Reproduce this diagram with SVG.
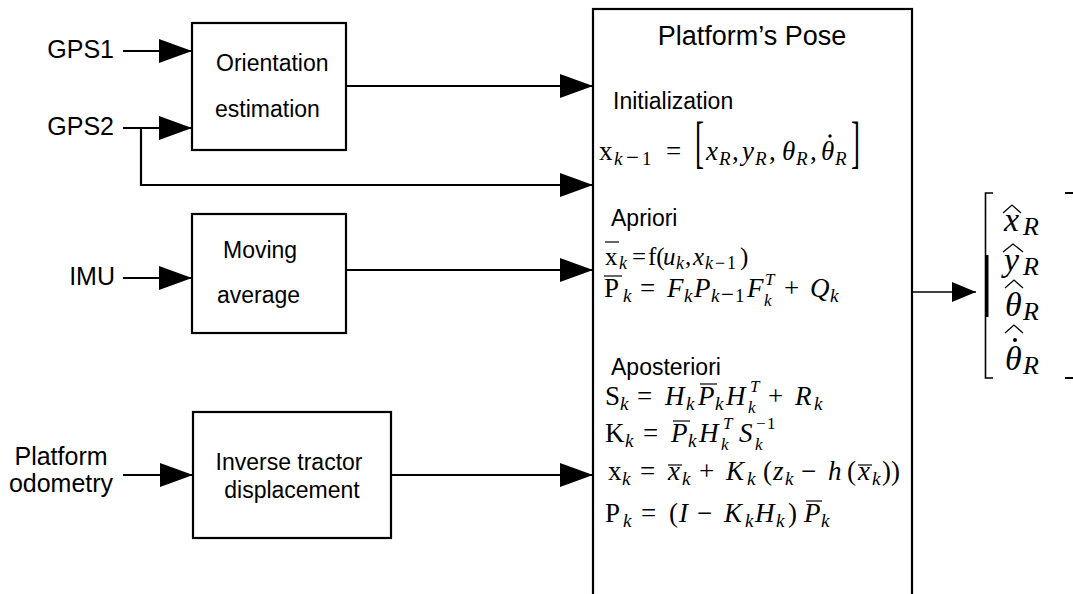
<svg xmlns="http://www.w3.org/2000/svg" width="1073" height="594" viewBox="0 0 1073 594">
<defs>
<style>
.box{fill:#fff;stroke:#000;stroke-width:2.2}
.ln{fill:none;stroke:#000;stroke-width:2.2}
.lbl{font-family:"Liberation Sans",Arial,sans-serif;font-size:25px;fill:#000}
.bt{font-family:"Liberation Sans",Arial,sans-serif;font-size:23px;fill:#000}
.ttl{font-family:"Liberation Sans",Arial,sans-serif;font-size:27px;fill:#000}
.m{font-family:"Liberation Serif","DejaVu Serif",serif;font-size:27px;fill:#000}
.m2{font-family:"Liberation Serif","DejaVu Serif",serif;font-size:25px;fill:#000}
.v{font-family:"Liberation Serif","DejaVu Serif",serif;font-size:34px;fill:#000;font-style:italic}
.it{font-style:italic}
.s{font-size:19px}
.ss{font-size:17px}
.mn{font-size:23px}
.s2{font-size:18px}
.vs{font-size:26px}
.bar{stroke:#000;stroke-width:1.2}
.hat{fill:none;stroke:#000;stroke-width:1.3}
</style>
<marker id="ah" viewBox="0 0 33 24" refX="33" refY="12" markerWidth="33" markerHeight="24" markerUnits="userSpaceOnUse" orient="auto"><path d="M0,0 L33,12 L0,24 z" fill="#000"/></marker>
<marker id="ahs" viewBox="0 0 24 20" refX="24" refY="10" markerWidth="24" markerHeight="20" markerUnits="userSpaceOnUse" orient="auto"><path d="M0,0 L24,10 L0,20 z" fill="#000"/></marker>
</defs>
<rect x="0" y="0" width="1073" height="594" fill="#fff"/>

<g id="gps1"><text class="lbl" x="114" y="58" text-anchor="end">GPS1</text></g>
<g id="gps2"><text class="lbl" x="114" y="135" text-anchor="end">GPS2</text></g>
<g id="imu"><text class="lbl" x="115" y="285" text-anchor="end">IMU</text></g>
<g id="odometry"><text class="lbl" text-anchor="middle"><tspan x="61" y="465">Platform</tspan><tspan x="61" y="492">odometry</tspan></text></g>

<g id="orientation-estimation">
<rect class="box" x="192" y="23" width="154" height="127"/>
<text class="bt"><tspan x="216" y="71">Orientation</tspan><tspan x="215" y="117">estimation</tspan></text>
</g>
<g id="moving-average">
<rect class="box" x="192" y="214" width="154" height="119"/>
<text class="bt"><tspan x="223" y="258">Moving</tspan><tspan x="217" y="303">average</tspan></text>
</g>
<g id="inverse-tractor-displacement">
<rect class="box" x="193" y="412" width="198" height="126"/>
<text class="bt" text-anchor="middle"><tspan x="289" y="470">Inverse tractor</tspan><tspan x="292" y="498">displacement</tspan></text>
</g>

<g id="platform-pose">
<rect class="box" x="593" y="9" width="319" height="600"/>
<text class="ttl" x="752" y="45" text-anchor="middle">Platform’s Pose</text>
<text class="bt" x="613" y="109">Initialization</text>
<text class="m"><tspan x="599" y="160">x</tspan><tspan class="it s" x="614" y="165">k</tspan><tspan class="mn" x="626" y="165">−</tspan><tspan class="s" x="642" y="165">1</tspan><tspan x="666" y="160">=</tspan><tspan class="it" x="706" y="160">x</tspan><tspan class="it s" x="719" y="165">R</tspan><tspan x="732" y="160">,</tspan><tspan class="it" x="742" y="160">y</tspan><tspan class="it s" x="755" y="165">R</tspan><tspan x="769" y="160">,</tspan><tspan class="it" x="782" y="160">θ</tspan><tspan class="it s" x="796" y="165">R</tspan><tspan x="810" y="160">,</tspan><tspan class="it" x="821" y="160">θ</tspan><tspan class="it s" x="835" y="165">R</tspan></text>
<circle cx="830" cy="136" r="1.7" fill="#000"/>
<text class="m" transform="translate(695,161) scale(1,2.15)">[</text>
<text class="m" transform="translate(851,161) scale(1,2.15)">]</text>

<text class="bt" x="611" y="226">Apriori</text>
<text class="m2"><tspan x="605" y="265">x</tspan><tspan class="it s2" x="619" y="269">k</tspan><tspan x="632" y="265">=</tspan><tspan x="648" y="265">f(</tspan><tspan class="it" x="663" y="265">u</tspan><tspan class="it s2" x="676" y="269">k</tspan><tspan x="685" y="265">,</tspan><tspan class="it" x="693" y="265">x</tspan><tspan class="it s2" x="705" y="269">k</tspan><tspan class="s2" x="715" y="269">−</tspan><tspan class="s2" x="727" y="269">1</tspan><tspan x="740" y="265">)</tspan></text>
<line class="bar" x1="605" y1="242" x2="619" y2="242"/>
<text class="m"><tspan x="604" y="297">P</tspan><tspan class="it s" x="623" y="302">k</tspan><tspan x="640" y="297">=</tspan><tspan class="it" x="667" y="297">F</tspan><tspan class="it s" x="684" y="302">k</tspan><tspan class="it" x="694" y="297">P</tspan><tspan class="it s" x="711" y="302">k</tspan><tspan class="mn" x="721" y="302">−</tspan><tspan class="s" x="735" y="302">1</tspan><tspan class="it" x="747" y="297">F</tspan><tspan class="it ss" x="765" y="285">T</tspan><tspan class="it ss" x="764" y="306">k</tspan><tspan x="784" y="297">+</tspan><tspan class="it" x="810" y="297">Q</tspan><tspan class="it s" x="830" y="302">k</tspan></text>
<line class="bar" x1="604" y1="276" x2="622" y2="276"/>

<text class="bt" x="611" y="375">Aposteriori</text>
<text class="m"><tspan x="605" y="405">S</tspan><tspan class="it s" x="620" y="410">k</tspan><tspan x="637" y="405">=</tspan><tspan class="it" x="665" y="405">H</tspan><tspan class="it s" x="686" y="410">k</tspan><tspan class="it" x="698" y="405">P</tspan><tspan class="it s" x="715" y="410">k</tspan><tspan class="it" x="726" y="405">H</tspan><tspan class="it ss" x="750" y="392">T</tspan><tspan class="it ss" x="748" y="413">k</tspan><tspan x="768" y="405">+</tspan><tspan class="it" x="795" y="405">R</tspan><tspan class="it s" x="814" y="410">k</tspan></text>
<line class="bar" x1="700" y1="384" x2="717" y2="384"/>
<text class="m"><tspan x="605" y="442">K</tspan><tspan class="it s" x="625" y="447">k</tspan><tspan x="643" y="442">=</tspan><tspan class="it" x="671" y="442">P</tspan><tspan class="it s" x="688" y="447">k</tspan><tspan class="it" x="699" y="442">H</tspan><tspan class="it ss" x="723" y="429">T</tspan><tspan class="it ss" x="721" y="450">k</tspan><tspan class="it" x="739" y="442">S</tspan><tspan class="ss" x="756" y="429">−</tspan><tspan class="ss" x="767" y="429">1</tspan><tspan class="it ss" x="755" y="450">k</tspan></text>
<line class="bar" x1="673" y1="421" x2="690" y2="421"/>
<text class="m"><tspan x="608" y="480">x</tspan><tspan class="it s" x="622" y="485">k</tspan><tspan x="640" y="480">=</tspan><tspan class="it" x="668" y="480">x</tspan><tspan class="it s" x="682" y="485">k</tspan><tspan x="699" y="480">+</tspan><tspan class="it" x="726" y="480">K</tspan><tspan class="it s" x="747" y="485">k</tspan><tspan x="763" y="480">(</tspan><tspan class="it" x="773" y="480">z</tspan><tspan class="it s" x="785" y="485">k</tspan><tspan x="801" y="480">−</tspan><tspan class="it" x="828" y="480">h</tspan><tspan x="847" y="480">(</tspan><tspan class="it" x="858" y="480">x</tspan><tspan class="it s" x="872" y="485">k</tspan><tspan x="882" y="480">))</tspan></text>
<line class="bar" x1="668" y1="465" x2="682" y2="465"/>
<line class="bar" x1="858" y1="465" x2="872" y2="465"/>
<text class="m"><tspan x="605" y="522">P</tspan><tspan class="it s" x="623" y="527">k</tspan><tspan x="641" y="522">=</tspan><tspan x="669" y="522">(</tspan><tspan class="it" x="679" y="522">I</tspan><tspan x="697" y="522">−</tspan><tspan class="it" x="724" y="522">K</tspan><tspan class="it s" x="745" y="527">k</tspan><tspan class="it" x="755" y="522">H</tspan><tspan class="it s" x="776" y="527">k</tspan><tspan x="788" y="522">)</tspan><tspan class="it" x="804" y="522">P</tspan><tspan class="it s" x="821" y="527">k</tspan></text>
<line class="bar" x1="806" y1="501" x2="822" y2="501"/>
</g>

<g id="output-vector">
<path d="M993,193 H985.5 V378 H993" class="ln" style="stroke-width:1.6"/>
<rect x="985" y="255" width="3.5" height="62" fill="#000"/>
<path d="M1065,193 H1073 M1065,378 H1073" class="ln"/>
<text class="v"><tspan x="1004" y="231">x</tspan><tspan class="vs" x="1023" y="235">R</tspan></text>
<path class="hat" d="M1003,213 L1012,205 L1021,213"/>
<text class="v"><tspan x="1004" y="271">y</tspan><tspan class="vs" x="1023" y="275">R</tspan></text>
<path class="hat" d="M1003,252 L1013,244 L1023,252"/>
<text class="v"><tspan x="1005" y="316">θ</tspan><tspan class="vs" x="1023" y="320">R</tspan></text>
<path class="hat" d="M1005,288 L1014,280 L1023,288"/>
<text class="v"><tspan x="1005" y="370">θ</tspan><tspan class="vs" x="1023" y="374">R</tspan></text>
<circle cx="1015" cy="340" r="2" fill="#000"/>
<path class="hat" d="M1005,333 L1014,325 L1023,333"/>
</g>

<g id="connectors">
<path class="ln" d="M123,51 H192" marker-end="url(#ah)"/>
<path class="ln" d="M123,128 H192" marker-end="url(#ah)"/>
<path class="ln" d="M141,128 V185 H593" marker-end="url(#ah)"/>
<path class="ln" d="M346,86 H593" marker-end="url(#ah)"/>
<path class="ln" d="M123,278 H192" marker-end="url(#ah)"/>
<path class="ln" d="M346,270 H593" marker-end="url(#ah)"/>
<path class="ln" d="M123,475 H193" marker-end="url(#ah)"/>
<path class="ln" d="M391,475 H593" marker-end="url(#ah)"/>
<path class="ln" d="M912,292 H976" style="stroke-width:1.3" marker-end="url(#ahs)"/>
</g>
</svg>
